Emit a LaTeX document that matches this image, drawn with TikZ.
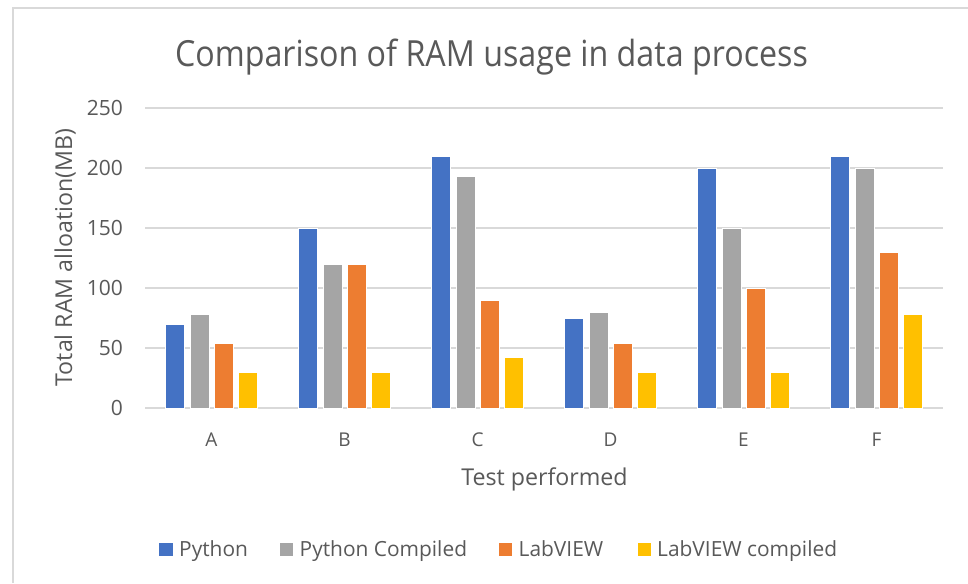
\documentclass[tikz,border=0pt]{standalone}
\usepackage{fontspec}
\setmainfont{Open Sans}
\newfontfamily\titlefont[FakeStretch=0.895]{Open Sans}
\definecolor{cpy}{HTML}{4472C4}
\definecolor{cpc}{HTML}{A5A5A5}
\definecolor{clv}{HTML}{ED7D31}
\definecolor{clc}{HTML}{FFC000}
\definecolor{ctxt}{HTML}{595959}
\definecolor{cgrid}{HTML}{D9D9D9}
\begin{document}
\begin{tikzpicture}[x=1pt,y=-1pt,
  grid/.style={draw=cgrid, line width=1.4pt},
  ticklab/.style={text=ctxt, inner sep=0pt, anchor=east, font=\fontsize{21}{24}\selectfont},
  catlab/.style={text=ctxt, inner sep=0pt, anchor=base, font=\fontsize{19}{22}\selectfont},
  axlab/.style={text=ctxt, inner sep=0pt, anchor=base, font=\fontsize{23.2}{26}\selectfont},
  leglab/.style={text=ctxt, inner sep=0pt, anchor=base west, font=\fontsize{20.9}{24}\selectfont},
  bar/.style={draw=white, line width=0.4pt}]
\useasboundingbox (0,0) rectangle (968,583);
\fill[white] (0,0) rectangle (968,583);
\draw[cgrid, line width=1.5pt] (13,583) -- (13,8) -- (968,8);
% gridlines and tick labels
\foreach \v in {0,50,...,250} {
  \draw[grid] (145,{408-1.2*\v}) -- (943,{408-1.2*\v});
  \node[ticklab] (tick\v) at (123,{408-1.2*\v}) {\v};
}
% bars
\foreach \a/\b/\c/\d/\n [count=\i from 0] in {70/78/54/30/A, 150/120/120/30/B, 210/193/90/42/C, 75/80/54/30/D, 200/150/100/30/E, 210/200/130/78/F} {
  \pgfmathsetmacro{\cx}{211.5+133*\i}
  \fill[cpy,bar] ({\cx-36.45-9.5},408) rectangle ++(19,{-1.2*\a});
  \fill[cpc,bar] ({\cx-12.15-9.5},408) rectangle ++(19,{-1.2*\b});
  \fill[clv,bar] ({\cx+12.15-9.5},408) rectangle ++(19,{-1.2*\c});
  \fill[clc,bar] ({\cx+36.45-9.5},408) rectangle ++(19,{-1.2*\d});
  \node[catlab] (cat\n) at (\cx,446) {\n};
}
% title and axis labels
\node[text=ctxt, inner sep=0pt, anchor=base, font=\titlefont\fontsize{36}{40}\selectfont] (title) at (491.5,66.7) {Comparison of RAM usage in data process};
\node[axlab] (xlab) at (544.5,485) {Test performed};
\node[axlab, rotate=90] (ylab) at (72,257.5) {Total RAM alloation(MB)};
% legend
\fill[cpy] (159,542.5) rectangle (172.5,556);
\node[leglab] (legpy) at (179,556.5) {Python};
\fill[cpc] (279.5,542.5) rectangle (293,556);
\node[leglab] (legpc) at (299.5,556.5) {Python Compiled};
\fill[clv] (498.5,542.5) rectangle (512,556);
\node[leglab] (leglv) at (518.5,556.5) {LabVIEW};
\fill[clc] (637.5,542.5) rectangle (651,556);
\node[leglab] (leglc) at (657,556.5) {LabVIEW compiled};
\end{tikzpicture}
\end{document}
